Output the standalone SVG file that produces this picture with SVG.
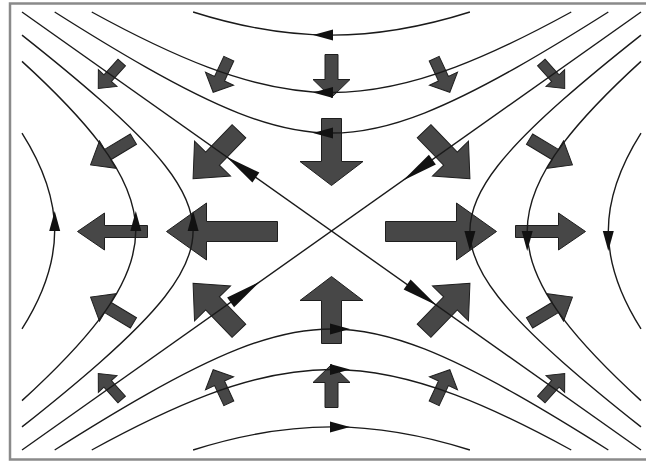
<svg xmlns="http://www.w3.org/2000/svg" xmlns:xlink="http://www.w3.org/1999/xlink" width="646" height="463" viewBox="0 0 646 463">
<style>
.s{fill:none;stroke:#1a1a1a;stroke-width:1.4;vector-effect:non-scaling-stroke}
.a{fill:#474747;stroke:#1e1e1e;stroke-width:1}
.m{fill:#111}
.frame{fill:none;stroke:#8a8a8a;stroke-width:2.5}
</style>
<defs>
<path id="aH" class="a" d="M-55.5,-10H15.5V-28.5L55.5,0L15.5,28.5V10H-55.5Z"/>
<path id="aHs" class="a" d="M-35,-6H8V-18.5L35,0L8,18.5V6H-35Z"/>
<path id="aV" class="a" d="M-33.5,-10H9.5V-31.5L33.5,0L9.5,31.5V10H-33.5Z"/>
<path id="aVs" class="a" d="M-21.5,-6.5H3.5V-18.5L21.5,0L3.5,18.5V6.5H-21.5Z"/>
<path id="aD" class="a" d="M-33,-9.5H5V-25L33,0L5,25V9.5H-33Z"/>
<path id="aD2" class="a" d="M-25,-6H5V-16L25,0L5,16V6H-25Z"/>
<path id="aD1" class="a" d="M-17.5,-5H3.5V-12.5L17.5,0L3.5,12.5V5H-17.5Z"/>
<path id="aD1b" class="a" d="M-18.5,-5.5H3.5V-15.5L18.5,0L3.5,15.5V5.5H-18.5Z"/>
<path id="k2" class="s" d="M-0.8944,-1C-0.7963,-0.91222 -0.69814,-0.82702 -0.6,-0.74833C-0.5,-0.66815 -0.4,-0.59423 -0.3,-0.53852C-0.2,-0.48281 -0.1,-0.44721 0,-0.44721C0.1,-0.44721 0.2,-0.48281 0.3,-0.53852C0.4,-0.59423 0.5,-0.66815 0.6,-0.74833C0.69814,-0.82702 0.7963,-0.91222 0.8944,-1"/>
<path id="k4" class="s" d="M-0.7746,-1C-0.64973,-0.90328 -0.52487,-0.81508 -0.4,-0.74833C-0.26667,-0.67706 -0.13333,-0.63246 0,-0.63246C0.13333,-0.63246 0.26667,-0.67706 0.4,-0.74833C0.52487,-0.81508 0.64973,-0.90328 0.7746,-1"/>
<path id="k8" class="s" d="M-0.44721,-1C-0.29814,-0.93333 -0.14907,-0.89443 0,-0.89443C0.14907,-0.89443 0.29814,-0.93333 0.44721,-1"/>
<path id="mk" class="m" d="M0,0L-20,-5.5L-20,5.5Z"/>
<path id="mkd" class="m" d="M0,0L-36,-6L-36,6Z"/>
</defs>

<path class="frame" d="M646,3.5H10V459.5H646"/>

<g id="field-arrows">
<use xlink:href="#aD1" transform="translate(110,75.5) rotate(132)"/>
<use xlink:href="#aD1b" transform="translate(221,75.5) rotate(115)"/>
<use xlink:href="#aVs" transform="translate(331.5,76) rotate(90)"/>
<use xlink:href="#aD1b" transform="translate(442,75.5) rotate(65)"/>
<use xlink:href="#aD1" transform="translate(553,75.5) rotate(48)"/>

<use xlink:href="#aD2" transform="translate(112,152) rotate(149)"/>
<use xlink:href="#aD" transform="translate(216,155) rotate(134)"/>
<use xlink:href="#aV" transform="translate(331.5,152) rotate(90)"/>
<use xlink:href="#aD" transform="translate(447,155) rotate(46)"/>
<use xlink:href="#aD2" transform="translate(551,152) rotate(31)"/>

<use xlink:href="#aHs" transform="translate(112.5,231.5) rotate(180)"/>
<use xlink:href="#aH" transform="translate(222,231.5) rotate(180)"/>
<use xlink:href="#aH" transform="translate(441,231.5)"/>
<use xlink:href="#aHs" transform="translate(550.5,231.5)"/>

<use xlink:href="#aD2" transform="translate(112,310) rotate(-149)"/>
<use xlink:href="#aD" transform="translate(216,307) rotate(-134)"/>
<use xlink:href="#aV" transform="translate(331.5,310) rotate(-90)"/>
<use xlink:href="#aD" transform="translate(447,307) rotate(-46)"/>
<use xlink:href="#aD2" transform="translate(551,310) rotate(-31)"/>

<use xlink:href="#aD1" transform="translate(110,386.5) rotate(-132)"/>
<use xlink:href="#aD1b" transform="translate(221,386.5) rotate(-115)"/>
<use xlink:href="#aVs" transform="translate(331.5,386) rotate(-90)"/>
<use xlink:href="#aD1b" transform="translate(442,386.5) rotate(-65)"/>
<use xlink:href="#aD1" transform="translate(553,386.5) rotate(-48)"/>
</g>

<g id="streamlines">
<g transform="matrix(309.5 0 0 219 331.5 231)">
<path class="s" d="M-1,-1L1,1"/>
<path class="s" d="M1,-1L-1,1"/>
<g id="top"><use xlink:href="#k2"/><use xlink:href="#k4"/><use xlink:href="#k8"/></g>
<g id="bottom" transform="scale(1,-1)"><use xlink:href="#k2"/><use xlink:href="#k4"/><use xlink:href="#k8"/></g>
<g id="left" transform="matrix(0 1 1 0 0 0)"><use xlink:href="#k2"/><use xlink:href="#k4"/><use xlink:href="#k8"/></g>
<g id="right" transform="matrix(0 1 -1 0 0 0)"><use xlink:href="#k2"/><use xlink:href="#k4"/><use xlink:href="#k8"/></g>
</g>
<g id="streamline-arrowheads">
<use xlink:href="#mk" transform="translate(313,35) rotate(180)"/>
<use xlink:href="#mk" transform="translate(313,92.5) rotate(180)"/>
<use xlink:href="#mk" transform="translate(313,133) rotate(180)"/>
<use xlink:href="#mk" transform="translate(350,427) rotate(0)"/>
<use xlink:href="#mk" transform="translate(350,369.5) rotate(0)"/>
<use xlink:href="#mk" transform="translate(350,329) rotate(0)"/>
<use xlink:href="#mk" transform="translate(54.7,211) rotate(-90)"/>
<use xlink:href="#mk" transform="translate(135.8,211) rotate(-90)"/>
<use xlink:href="#mk" transform="translate(193.1,211) rotate(-90)"/>
<use xlink:href="#mk" transform="translate(608.3,251) rotate(90)"/>
<use xlink:href="#mk" transform="translate(527.2,251) rotate(90)"/>
<use xlink:href="#mk" transform="translate(469.9,251) rotate(90)"/>
<use xlink:href="#mkd" transform="translate(403,180.4) rotate(144.7)"/>
<use xlink:href="#mkd" transform="translate(260,281.6) rotate(-35.3)"/>
<use xlink:href="#mkd" transform="translate(226.5,156.7) rotate(-144.7)"/>
<use xlink:href="#mkd" transform="translate(436.5,305.3) rotate(35.3)"/>
</g>
</g>
</svg>
